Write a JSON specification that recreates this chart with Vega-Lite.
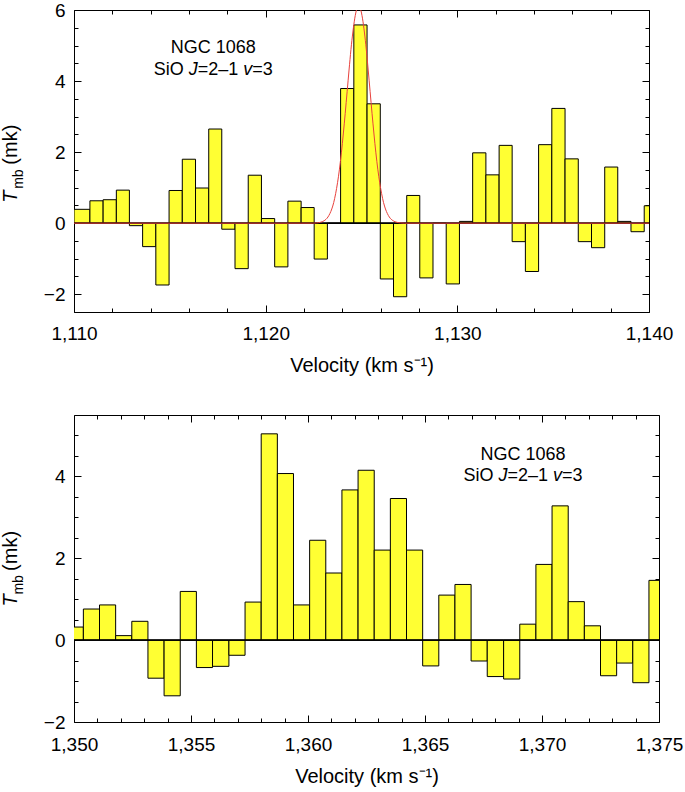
{
  "$schema": "https://vega.github.io/schema/vega-lite/v6.json",
  "padding": {"left": 0, "top": 0, "right": 5, "bottom": 0},
  "background": "white",
  "spacing": 38,
  "datasets": {
    "topBars": [
      {"lo":1110.0,"hi":1110.83,"T":0.39},{"lo":1110.83,"hi":1111.52,"T":0.63},{"lo":1111.52,"hi":1112.21,"T":0.66},
      {"lo":1112.21,"hi":1112.89,"T":0.93},{"lo":1112.89,"hi":1113.58,"T":-0.07},{"lo":1113.58,"hi":1114.27,"T":-0.66},
      {"lo":1114.27,"hi":1114.96,"T":-1.74},{"lo":1114.96,"hi":1115.65,"T":0.92},{"lo":1115.65,"hi":1116.34,"T":1.80},
      {"lo":1116.34,"hi":1117.03,"T":0.99},{"lo":1117.03,"hi":1117.71,"T":2.65},{"lo":1117.71,"hi":1118.40,"T":-0.17},
      {"lo":1118.40,"hi":1119.09,"T":-1.28},{"lo":1119.09,"hi":1119.78,"T":1.35},{"lo":1119.78,"hi":1120.47,"T":0.13},
      {"lo":1120.47,"hi":1121.16,"T":-1.23},{"lo":1121.16,"hi":1121.85,"T":0.62},{"lo":1121.85,"hi":1122.53,"T":0.44},
      {"lo":1122.53,"hi":1123.22,"T":-1.01},{"lo":1123.22,"hi":1123.91,"T":0.0},{"lo":1123.91,"hi":1124.60,"T":3.79},
      {"lo":1124.60,"hi":1125.29,"T":5.58},{"lo":1125.29,"hi":1125.98,"T":3.36},{"lo":1125.98,"hi":1126.67,"T":-1.57},
      {"lo":1126.67,"hi":1127.36,"T":-2.07},{"lo":1127.36,"hi":1128.04,"T":0.78},{"lo":1128.04,"hi":1128.73,"T":-1.54},
      {"lo":1128.73,"hi":1129.42,"T":0.0},{"lo":1129.42,"hi":1130.11,"T":-1.71},{"lo":1130.11,"hi":1130.80,"T":0.05},
      {"lo":1130.80,"hi":1131.49,"T":1.98},{"lo":1131.49,"hi":1132.18,"T":1.36},{"lo":1132.18,"hi":1132.86,"T":2.19},
      {"lo":1132.86,"hi":1133.55,"T":-0.52},{"lo":1133.55,"hi":1134.24,"T":-1.36},{"lo":1134.24,"hi":1134.93,"T":2.21},
      {"lo":1134.93,"hi":1135.62,"T":3.23},{"lo":1135.62,"hi":1136.31,"T":1.81},{"lo":1136.31,"hi":1137.00,"T":-0.52},
      {"lo":1137.00,"hi":1137.69,"T":-0.69},{"lo":1137.69,"hi":1138.37,"T":1.58},{"lo":1138.37,"hi":1139.06,"T":0.05},
      {"lo":1139.06,"hi":1139.75,"T":-0.24},{"lo":1139.75,"hi":1140.44,"T":0.49}
    ],
    "topFit": [
      {"v":1110.0,"g":0},{"v":1122.45,"g":0.0},{"v":1122.65,"g":0.007},{"v":1122.85,"g":0.024},{"v":1123.05,"g":0.068},
      {"v":1123.25,"g":0.174},{"v":1123.35,"g":0.27},{"v":1123.45,"g":0.40},{"v":1123.55,"g":0.58},{"v":1123.65,"g":0.83},
      {"v":1123.75,"g":1.14},{"v":1123.85,"g":1.52},{"v":1123.95,"g":1.98},{"v":1124.05,"g":2.51},{"v":1124.15,"g":3.09},
      {"v":1124.25,"g":3.70},{"v":1124.35,"g":4.31},{"v":1124.45,"g":4.89},{"v":1124.55,"g":5.38},{"v":1124.65,"g":5.77},
      {"v":1124.75,"g":6.02},{"v":1124.85,"g":6.10},{"v":1124.95,"g":6.02},{"v":1125.05,"g":5.77},{"v":1125.15,"g":5.38},
      {"v":1125.25,"g":4.89},{"v":1125.35,"g":4.31},{"v":1125.45,"g":3.70},{"v":1125.55,"g":3.09},{"v":1125.65,"g":2.51},
      {"v":1125.75,"g":1.98},{"v":1125.85,"g":1.52},{"v":1125.95,"g":1.14},{"v":1126.05,"g":0.83},{"v":1126.15,"g":0.58},
      {"v":1126.25,"g":0.40},{"v":1126.35,"g":0.27},{"v":1126.45,"g":0.174},{"v":1126.65,"g":0.068},{"v":1126.85,"g":0.024},
      {"v":1127.05,"g":0.007},{"v":1127.25,"g":0.0},{"v":1140.0,"g":0}
    ],
    "bottomBars": [
      {"lo":1349.71,"hi":1350.40,"T":0.32},{"lo":1350.40,"hi":1351.09,"T":0.76},{"lo":1351.09,"hi":1351.78,"T":0.86},
      {"lo":1351.78,"hi":1352.47,"T":0.11},{"lo":1352.47,"hi":1353.16,"T":0.46},{"lo":1353.16,"hi":1353.85,"T":-0.93},
      {"lo":1353.85,"hi":1354.54,"T":-1.36},{"lo":1354.54,"hi":1355.23,"T":1.19},{"lo":1355.23,"hi":1355.92,"T":-0.67},
      {"lo":1355.92,"hi":1356.62,"T":-0.64},{"lo":1356.62,"hi":1357.31,"T":-0.37},{"lo":1357.31,"hi":1358.00,"T":0.93},
      {"lo":1358.00,"hi":1358.69,"T":5.04},{"lo":1358.69,"hi":1359.38,"T":4.07},{"lo":1359.38,"hi":1360.07,"T":0.86},
      {"lo":1360.07,"hi":1360.76,"T":2.44},{"lo":1360.76,"hi":1361.45,"T":1.64},{"lo":1361.45,"hi":1362.14,"T":3.67},
      {"lo":1362.14,"hi":1362.83,"T":4.15},{"lo":1362.83,"hi":1363.52,"T":2.20},{"lo":1363.52,"hi":1364.21,"T":3.46},
      {"lo":1364.21,"hi":1364.90,"T":2.20},{"lo":1364.90,"hi":1365.59,"T":-0.63},{"lo":1365.59,"hi":1366.28,"T":1.10},
      {"lo":1366.28,"hi":1366.97,"T":1.36},{"lo":1366.97,"hi":1367.66,"T":-0.51},{"lo":1367.66,"hi":1368.36,"T":-0.89},
      {"lo":1368.36,"hi":1369.05,"T":-0.95},{"lo":1369.05,"hi":1369.74,"T":0.39},{"lo":1369.74,"hi":1370.43,"T":1.85},
      {"lo":1370.43,"hi":1371.12,"T":3.28},{"lo":1371.12,"hi":1371.81,"T":0.94},{"lo":1371.81,"hi":1372.50,"T":0.35},
      {"lo":1372.50,"hi":1373.19,"T":-0.87},{"lo":1373.19,"hi":1373.88,"T":-0.56},{"lo":1373.88,"hi":1374.57,"T":-1.04},
      {"lo":1374.57,"hi":1375.26,"T":1.46}
    ],
    "one": [{}]
  },
  "vconcat": [
    {
      "width": 575,
      "height": 302,
      "layer": [
        {
          "data": {"name": "topBars"},
          "mark": {"type": "rect", "fill": "#ffff33", "stroke": "black", "strokeWidth": 1, "clip": true},
          "encoding": {
            "x": {"field": "lo", "type": "quantitative", "scale": {"domain": [1110, 1140], "nice": false, "zero": false},
                  "axis": {"orient": "bottom", "values": [1110, 1120, 1130, 1140], "format": ",.0f", "tickSize": -7, "labelPadding": 19, "labelFlush": false, "title": "Velocity (km s⁻¹)", "titlePadding": 12}},
            "x2": {"field": "hi"},
            "y": {"field": "T", "type": "quantitative", "scale": {"domain": [-2.5, 6], "nice": false, "zero": false},
                  "axis": {"orient": "left", "values": [-2, 0, 2, 4, 6], "tickSize": -7, "labelPadding": 16, "labelFlush": false, "title": null}},
            "y2": {"datum": 0}
          }
        },
        {
          "data": {"name": "one"},
          "mark": {"type": "rule", "color": "black", "strokeWidth": 1},
          "encoding": {
            "x": {"datum": 1110, "type": "quantitative", "axis": {"orient": "top", "values": [1110, 1120, 1130, 1140], "tickSize": -7, "labels": false, "title": null}},
            "x2": {"datum": 1140},
            "y": {"datum": 0, "type": "quantitative", "axis": {"orient": "right", "values": [-2, 0, 2, 4, 6], "tickSize": -7, "labels": false, "title": null}}
          }
        },
        {
          "data": {"name": "one"},
          "mark": {"type": "rule", "color": "black", "strokeWidth": 1},
          "encoding": {
            "x": {"datum": 1110, "type": "quantitative", "axis": {"orient": "bottom", "values": [1112, 1114, 1116, 1118, 1122, 1124, 1126, 1128, 1132, 1134, 1136, 1138], "tickSize": -4, "labels": false, "title": null}},
            "x2": {"datum": 1140},
            "y": {"datum": 0, "type": "quantitative", "axis": {"orient": "left", "values": [-2.5, -1.5, -1, -0.5, 0.5, 1, 1.5, 2.5, 3, 3.5, 4.5, 5, 5.5], "tickSize": -4, "labels": false, "title": null}}
          }
        },
        {
          "data": {"name": "one"},
          "mark": {"type": "rule", "color": "black", "strokeWidth": 1},
          "encoding": {
            "x": {"datum": 1110, "type": "quantitative", "axis": {"orient": "top", "values": [1112, 1114, 1116, 1118, 1122, 1124, 1126, 1128, 1132, 1134, 1136, 1138], "tickSize": -4, "labels": false, "title": null}},
            "x2": {"datum": 1140},
            "y": {"datum": 0, "type": "quantitative", "axis": {"orient": "right", "values": [-2.5, -1.5, -1, -0.5, 0.5, 1, 1.5, 2.5, 3, 3.5, 4.5, 5, 5.5], "tickSize": -4, "labels": false, "title": null}}
          }
        },
        {
          "data": {"name": "topFit"},
          "mark": {"type": "line", "color": "#e8413c", "strokeWidth": 1, "clip": true, "interpolate": "monotone"},
          "encoding": {
            "x": {"field": "v", "type": "quantitative", "axis": null},
            "y": {"field": "g", "type": "quantitative", "axis": null}
          }
        },
        {
          "data": {"name": "one"},
          "mark": {"type": "text", "text": "NGC 1068", "font": "Liberation Sans", "fontSize": 18, "align": "center", "baseline": "middle", "color": "black"},
          "encoding": {"x": {"datum": 1117.27, "type": "quantitative", "axis": null}, "y": {"datum": 4.92, "type": "quantitative", "axis": null}}
        },
        {
          "data": {"name": "one"},
          "mark": {"type": "text", "text": "SiO", "font": "Liberation Sans", "fontSize": 18, "align": "left", "baseline": "middle", "dx": -59.5, "color": "black"},
          "encoding": {"x": {"datum": 1117.27, "type": "quantitative", "axis": null}, "y": {"datum": 4.30, "type": "quantitative", "axis": null}}
        },
        {
          "data": {"name": "one"},
          "mark": {"type": "text", "text": "J", "font": "Liberation Sans", "fontStyle": "italic", "fontSize": 18, "align": "left", "baseline": "middle", "dx": -24.5, "color": "black"},
          "encoding": {"x": {"datum": 1117.27, "type": "quantitative", "axis": null}, "y": {"datum": 4.30, "type": "quantitative", "axis": null}}
        },
        {
          "data": {"name": "one"},
          "mark": {"type": "text", "text": "=2–1", "font": "Liberation Sans", "fontSize": 18, "align": "left", "baseline": "middle", "dx": -15.5, "color": "black"},
          "encoding": {"x": {"datum": 1117.27, "type": "quantitative", "axis": null}, "y": {"datum": 4.30, "type": "quantitative", "axis": null}}
        },
        {
          "data": {"name": "one"},
          "mark": {"type": "text", "text": "v", "font": "Liberation Sans", "fontStyle": "italic", "fontSize": 18, "align": "left", "baseline": "middle", "dx": 30, "color": "black"},
          "encoding": {"x": {"datum": 1117.27, "type": "quantitative", "axis": null}, "y": {"datum": 4.30, "type": "quantitative", "axis": null}}
        },
        {
          "data": {"name": "one"},
          "mark": {"type": "text", "text": "=3", "font": "Liberation Sans", "fontSize": 18, "align": "left", "baseline": "middle", "dx": 39, "color": "black"},
          "encoding": {"x": {"datum": 1117.27, "type": "quantitative", "axis": null}, "y": {"datum": 4.30, "type": "quantitative", "axis": null}}
        },
        {
          "data": {"name": "one"},
          "mark": {"type": "text", "text": "T", "font": "Liberation Sans", "fontStyle": "italic", "fontSize": 20, "angle": 270, "align": "center", "baseline": "middle", "color": "black"},
          "encoding": {"x": {"datum": 1106.69, "type": "quantitative", "axis": null}, "y": {"datum": 0.75, "type": "quantitative", "axis": null}}
        },
        {
          "data": {"name": "one"},
          "mark": {"type": "text", "text": "mb", "font": "Liberation Sans", "fontSize": 14, "angle": 270, "align": "center", "baseline": "middle", "dy": 8, "color": "black"},
          "encoding": {"x": {"datum": 1106.69, "type": "quantitative", "axis": null}, "y": {"datum": 1.24, "type": "quantitative", "axis": null}}
        },
        {
          "data": {"name": "one"},
          "mark": {"type": "text", "text": "(mk)", "font": "Liberation Sans", "fontSize": 20, "angle": 270, "align": "center", "baseline": "middle", "color": "black"},
          "encoding": {"x": {"datum": 1106.69, "type": "quantitative", "axis": null}, "y": {"datum": 2.21, "type": "quantitative", "axis": null}}
        }
      ],
      "resolve": {"axis": {"x": "independent", "y": "independent"}}
    },
    {
      "width": 585,
      "height": 307,
      "layer": [
        {
          "data": {"name": "bottomBars"},
          "mark": {"type": "rect", "fill": "#ffff33", "stroke": "black", "strokeWidth": 1, "clip": true},
          "encoding": {
            "x": {"field": "lo", "type": "quantitative", "scale": {"domain": [1350, 1375], "nice": false, "zero": false},
                  "axis": {"orient": "bottom", "values": [1350, 1355, 1360, 1365, 1370, 1375], "format": ",.0f", "tickSize": -7, "labelPadding": 20, "labelFlush": false, "title": "Velocity (km s⁻¹)", "titlePadding": 12}},
            "x2": {"field": "hi"},
            "y": {"field": "T", "type": "quantitative", "scale": {"domain": [-2, 5.5], "nice": false, "zero": false},
                  "axis": {"orient": "left", "values": [-2, 0, 2, 4], "tickSize": -7, "labelPadding": 16, "labelFlush": false, "title": null}},
            "y2": {"datum": 0}
          }
        },
        {
          "data": {"name": "one"},
          "mark": {"type": "rule", "color": "black", "strokeWidth": 1},
          "encoding": {
            "x": {"datum": 1350, "type": "quantitative", "axis": {"orient": "top", "values": [1350, 1355, 1360, 1365, 1370, 1375], "tickSize": -7, "labels": false, "title": null}},
            "x2": {"datum": 1375},
            "y": {"datum": 0, "type": "quantitative", "axis": {"orient": "right", "values": [-2, 0, 2, 4], "tickSize": -7, "labels": false, "title": null}}
          }
        },
        {
          "data": {"name": "one"},
          "mark": {"type": "rule", "color": "black", "strokeWidth": 1},
          "encoding": {
            "x": {"datum": 1350, "type": "quantitative", "axis": {"orient": "bottom", "values": [1351, 1352, 1353, 1354, 1356, 1357, 1358, 1359, 1361, 1362, 1363, 1364, 1366, 1367, 1368, 1369, 1371, 1372, 1373, 1374], "tickSize": -4, "labels": false, "title": null}},
            "x2": {"datum": 1375},
            "y": {"datum": 0, "type": "quantitative", "axis": {"orient": "left", "values": [-1.5, -1, -0.5, 0.5, 1, 1.5, 2.5, 3, 3.5, 4.5, 5], "tickSize": -4, "labels": false, "title": null}}
          }
        },
        {
          "data": {"name": "one"},
          "mark": {"type": "rule", "color": "black", "strokeWidth": 1},
          "encoding": {
            "x": {"datum": 1350, "type": "quantitative", "axis": {"orient": "top", "values": [1351, 1352, 1353, 1354, 1356, 1357, 1358, 1359, 1361, 1362, 1363, 1364, 1366, 1367, 1368, 1369, 1371, 1372, 1373, 1374], "tickSize": -4, "labels": false, "title": null}},
            "x2": {"datum": 1375},
            "y": {"datum": 0, "type": "quantitative", "axis": {"orient": "right", "values": [-1.5, -1, -0.5, 0.5, 1, 1.5, 2.5, 3, 3.5, 4.5, 5], "tickSize": -4, "labels": false, "title": null}}
          }
        },
        {
          "data": {"name": "one"},
          "mark": {"type": "text", "text": "NGC 1068", "font": "Liberation Sans", "fontSize": 18, "align": "center", "baseline": "middle", "color": "black"},
          "encoding": {"x": {"datum": 1369.19, "type": "quantitative", "axis": null}, "y": {"datum": 4.52, "type": "quantitative", "axis": null}}
        },
        {
          "data": {"name": "one"},
          "mark": {"type": "text", "text": "SiO", "font": "Liberation Sans", "fontSize": 18, "align": "left", "baseline": "middle", "dx": -59.5, "color": "black"},
          "encoding": {"x": {"datum": 1369.19, "type": "quantitative", "axis": null}, "y": {"datum": 4.00, "type": "quantitative", "axis": null}}
        },
        {
          "data": {"name": "one"},
          "mark": {"type": "text", "text": "J", "font": "Liberation Sans", "fontStyle": "italic", "fontSize": 18, "align": "left", "baseline": "middle", "dx": -24.5, "color": "black"},
          "encoding": {"x": {"datum": 1369.19, "type": "quantitative", "axis": null}, "y": {"datum": 4.00, "type": "quantitative", "axis": null}}
        },
        {
          "data": {"name": "one"},
          "mark": {"type": "text", "text": "=2–1", "font": "Liberation Sans", "fontSize": 18, "align": "left", "baseline": "middle", "dx": -15.5, "color": "black"},
          "encoding": {"x": {"datum": 1369.19, "type": "quantitative", "axis": null}, "y": {"datum": 4.00, "type": "quantitative", "axis": null}}
        },
        {
          "data": {"name": "one"},
          "mark": {"type": "text", "text": "v", "font": "Liberation Sans", "fontStyle": "italic", "fontSize": 18, "align": "left", "baseline": "middle", "dx": 30, "color": "black"},
          "encoding": {"x": {"datum": 1369.19, "type": "quantitative", "axis": null}, "y": {"datum": 4.00, "type": "quantitative", "axis": null}}
        },
        {
          "data": {"name": "one"},
          "mark": {"type": "text", "text": "=3", "font": "Liberation Sans", "fontSize": 18, "align": "left", "baseline": "middle", "dx": 39, "color": "black"},
          "encoding": {"x": {"datum": 1369.19, "type": "quantitative", "axis": null}, "y": {"datum": 4.00, "type": "quantitative", "axis": null}}
        },
        {
          "data": {"name": "one"},
          "mark": {"type": "text", "text": "T", "font": "Liberation Sans", "fontStyle": "italic", "fontSize": 20, "angle": 270, "align": "center", "baseline": "middle", "color": "black"},
          "encoding": {"x": {"datum": 1347.29, "type": "quantitative", "axis": null}, "y": {"datum": 0.97, "type": "quantitative", "axis": null}}
        },
        {
          "data": {"name": "one"},
          "mark": {"type": "text", "text": "mb", "font": "Liberation Sans", "fontSize": 14, "angle": 270, "align": "center", "baseline": "middle", "dy": 8, "color": "black"},
          "encoding": {"x": {"datum": 1347.29, "type": "quantitative", "axis": null}, "y": {"datum": 1.35, "type": "quantitative", "axis": null}}
        },
        {
          "data": {"name": "one"},
          "mark": {"type": "text", "text": "(mk)", "font": "Liberation Sans", "fontSize": 20, "angle": 270, "align": "center", "baseline": "middle", "color": "black"},
          "encoding": {"x": {"datum": 1347.29, "type": "quantitative", "axis": null}, "y": {"datum": 2.18, "type": "quantitative", "axis": null}}
        }
      ],
      "resolve": {"axis": {"x": "independent", "y": "independent"}}
    }
  ],
  "config": {
    "font": "Liberation Sans",
    "view": {"stroke": "black", "strokeWidth": 1},
    "axis": {
      "grid": false, "domain": false, "tickColor": "black", "tickWidth": 1,
      "labelColor": "black", "labelFont": "Liberation Sans", "labelFontSize": 19,
      "titleFont": "Liberation Sans", "titleFontSize": 20, "titleFontWeight": "normal", "titleColor": "black"
    }
  }
}
